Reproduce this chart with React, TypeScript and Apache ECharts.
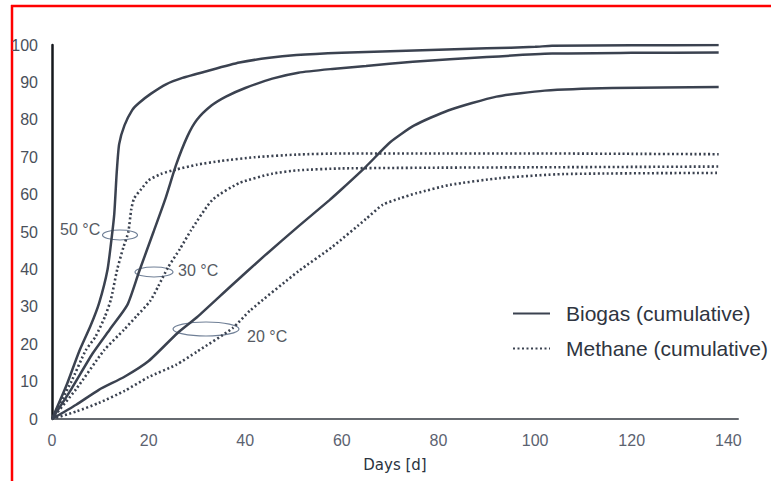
import React, { useEffect, useRef } from "react";
import * as echarts from "echarts";

const xTicks = [0, 20, 40, 60, 80, 100, 120, 140];
const yTicks = [0, 10, 20, 30, 40, 50, 60, 70, 80, 90, 100];

const biogas50 = [
  [0, 0], [3, 9], [5.6, 18], [8, 25], [9.75, 31], [11.5, 40], [12.4, 49], [12.9, 55], [13.4, 66], [13.9, 73.5],
  [15, 78.5], [16.6, 82.6], [18, 84.5], [20.5, 87], [23.6, 89.5], [27, 91.2], [32, 93], [38.8, 95.3], [45, 96.6],
  [50.6, 97.3], [60, 97.9], [70, 98.3], [80, 98.7], [90, 99.1], [100, 99.5], [103.5, 99.8], [120, 99.9], [138, 100],
];
const biogas30 = [
  [0, 0], [4, 8], [8.4, 17.5], [12, 24], [15.6, 30.5], [18, 39.3], [21, 50], [23.5, 59], [25.7, 68], [28, 75.5],
  [30, 80], [33, 83.8], [36, 86.2], [40, 88.5], [45.6, 91], [51, 92.6], [58, 93.6], [65, 94.4], [74.7, 95.5],
  [90, 96.8], [103.5, 97.7], [120, 97.9], [138, 98],
];
const biogas20 = [
  [0, 0], [5, 3.8], [9.7, 7.8], [15, 11.3], [20, 15.5], [26, 23], [30, 27.2], [37, 35.5], [44.3, 44], [51, 51.5],
  [57.5, 58.6], [60, 61.5], [65, 67.5], [70, 74], [75, 78.5], [82, 82.5], [92, 86.2], [102, 87.8], [116, 88.5], [138, 88.8],
];
const methane50 = [
  [0, 0], [4, 10], [7, 18.4], [9, 22], [11, 27.5], [12.2, 32], [13.5, 40], [14.8, 46], [15.8, 50], [16.4, 56],
  [17, 59], [18.5, 61.5], [20, 63.8], [22.5, 65.5], [25.7, 66.7], [30, 68], [35, 69], [42, 70], [50.6, 70.7],
  [60, 71], [80, 71], [100, 71], [120, 70.9], [138, 70.8],
];
const methane30 = [
  [0, 0], [5, 8], [10.8, 18.4], [15, 24], [17.5, 27.5], [20.3, 31.5], [22, 35.5], [24, 40.5], [26.5, 45.5],
  [28.8, 50.5], [33.2, 58.6], [38.8, 63.1], [45.6, 65.6], [51, 66.5], [60, 67], [80, 67.2], [100, 67.3], [138, 67.5],
];
const methane20 = [
  [0, 0], [5, 2], [9.7, 4.3], [15, 7.5], [20, 11.2], [25.7, 14.5], [30, 18], [37.4, 24.3], [41, 29], [51, 39.5],
  [58, 46], [65, 53.5], [68.5, 57.3], [72, 59], [75.5, 60.4], [82.4, 62.6], [92.7, 64.4], [106, 65.5], [138, 65.8],
];

const BIOGAS = "Biogas (cumulative)";
const METHANE = "Methane (cumulative)";
const LINE_COLOR = "#3b4250";
const FONT = "Liberation Sans";

export default function App() {
  const ref = useRef<HTMLDivElement>(null);

  useEffect(() => {
    if (!ref.current) return;
    const chart = echarts.init(ref.current, undefined, { renderer: "svg" });

    const solid = (data: number[][]) => ({
      type: "line",
      name: BIOGAS,
      data,
      symbol: "none",
      smooth: 0.2,
      lineStyle: { color: LINE_COLOR, width: 2.5, type: "solid" },
      itemStyle: { color: LINE_COLOR },
    });
    const dotted = (data: number[][]) => ({
      type: "line",
      name: METHANE,
      data,
      symbol: "none",
      smooth: 0.2,
      lineStyle: { color: LINE_COLOR, width: 2.6, type: [2, 2.5] },
      itemStyle: { color: LINE_COLOR },
    });

    const ann = (text: string, x: number, y: number) => ({
      type: "text",
      x,
      y,
      style: {
        text,
        fill: "#555a63",
        fontSize: 16,
        fontFamily: FONT,
        verticalAlign: "middle",
      },
    });
    const ell = (cx: number, cy: number, rx: number, ry: number) => ({
      type: "ellipse",
      shape: { cx, cy, rx, ry },
      style: { fill: "none", stroke: "#6f7f96", lineWidth: 1.2 },
    });

    chart.setOption({
      animation: false,
      backgroundColor: "#ffffff",
      grid: { left: 52, right: 33, top: 45, bottom: 62 },
      xAxis: {
        type: "value",
        min: 0,
        max: 142,
        interval: 20,
        name: "Days [d]",
        nameLocation: "middle",
        nameGap: 38,
        nameTextStyle: { color: "#2a3340", fontSize: 15, fontFamily: "DejaVu Sans" },
        axisLine: { show: true, lineStyle: { color: "#666a70", width: 2 } },
        axisTick: { show: false },
        splitLine: { show: false },
        axisLabel: {
          color: "#5b6270",
          fontSize: 16,
          fontFamily: FONT,
          margin: 13,
          formatter: (v: number) => (xTicks.includes(v) ? String(v) : ""),
        },
      },
      yAxis: {
        type: "value",
        min: 0,
        max: 100,
        interval: 10,
        axisLine: { show: true, lineStyle: { color: "#15181d", width: 2.5 } },
        axisTick: { show: false },
        splitLine: { show: false },
        axisLabel: {
          color: "#4a505a",
          fontSize: 16,
          fontFamily: FONT,
          margin: 14,
          formatter: (v: number) => (yTicks.includes(v) ? String(v) : ""),
        },
      },
      legend: {
        data: [BIOGAS, METHANE],
        orient: "vertical",
        left: 507,
        top: 298,
        itemWidth: 37,
        itemHeight: 20,
        itemGap: 14,
        itemStyle: { color: "rgba(0,0,0,0)", borderColor: "rgba(0,0,0,0)", borderWidth: 0, opacity: 0 },
        textStyle: {
          color: "#2f3540",
          fontSize: 21,
          fontFamily: FONT,
          padding: [0, 0, 0, 11],
        },
      },
      series: [
        solid(biogas50),
        solid(biogas30),
        solid(biogas20),
        dotted(methane50),
        dotted(methane30),
        dotted(methane20),
      ],
      graphic: [
        { type: "line", shape: { x1: 11, y1: 6, x2: 771, y2: 6 }, style: { stroke: "#ff0000", lineWidth: 2.5 } },
        { type: "line", shape: { x1: 12, y1: 5, x2: 12, y2: 481 }, style: { stroke: "#ff0000", lineWidth: 2.5 } },
        ell(120, 235, 17.5, 5),
        ell(154, 272, 19, 5),
        ell(206, 329, 33, 7),
        ann("50 °C", 60, 229),
        ann("30 °C", 178, 270),
        ann("20 °C", 247, 336),
      ],
    });

    return () => chart.dispose();
  }, []);

  return (
    <div
      ref={ref}
      style={{ position: "fixed", left: 0, top: 0, width: 771, height: 481, background: "#fff" }}
    />
  );
}
